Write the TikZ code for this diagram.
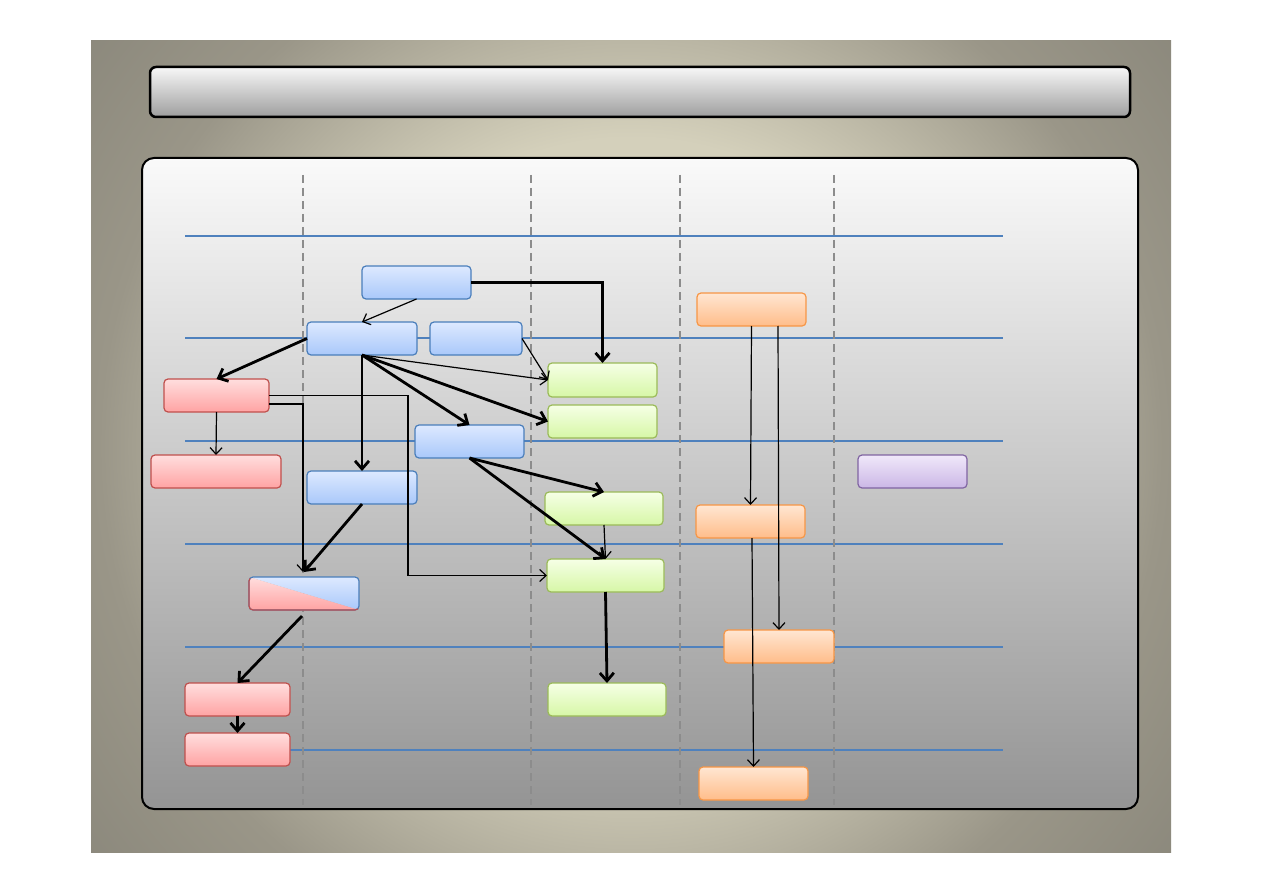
\documentclass[tikz,border=0pt]{standalone}
\usetikzlibrary{arrows.meta,calc}
\definecolor{bgc0}{HTML}{DEDAC6}
\definecolor{bgc1}{HTML}{D4D0BB}
\definecolor{bgc2}{HTML}{9A9688}
\definecolor{bgc3}{HTML}{8A877B}
\pgfdeclareradialshading{bgshade}{\pgfpoint{0bp}{0bp}}{color(0bp)=(bgc0); color(11bp)=(bgc1); color(19bp)=(bgc2); color(25bp)=(bgc3); color(50bp)=(bgc3)}
\definecolor{bluetop}{HTML}{DDE9FF}
\definecolor{bluebot}{HTML}{A9C8FA}
\definecolor{bluebd}{HTML}{4A7EBB}
\definecolor{redtop}{HTML}{FFDEDE}
\definecolor{redbot}{HTML}{FFA3A3}
\definecolor{redbd}{HTML}{C0504D}
\definecolor{greentop}{HTML}{F6FFE6}
\definecolor{greenbot}{HTML}{D6F7A6}
\definecolor{greenbd}{HTML}{9BBB59}
\definecolor{orangetop}{HTML}{FFE6D2}
\definecolor{orangebot}{HTML}{FFBD8A}
\definecolor{orangebd}{HTML}{F79646}
\definecolor{purpletop}{HTML}{F0E8FA}
\definecolor{purplebot}{HTML}{CBB7E6}
\definecolor{purplebd}{HTML}{8064A2}
\definecolor{laneblue}{HTML}{4F81BD}
\tikzset{
  box/.style={rounded corners=4pt, minimum height=33pt, inner sep=0pt, outer sep=0pt, line width=1.2pt},
  bluebox/.style={box, draw=bluebd, top color=bluetop, bottom color=bluebot},
  redbox/.style={box, draw=redbd, top color=redtop, bottom color=redbot},
  greenbox/.style={box, draw=greenbd, top color=greentop, bottom color=greenbot},
  orangebox/.style={box, draw=orangebd, top color=orangetop, bottom color=orangebot},
  purplebox/.style={box, draw=purplebd, top color=purpletop, bottom color=purplebot},
  smallarrow/.style={line width=1.2pt, -{Straight Barb[length=6.5pt,width=12pt]}},
  bigarrow/.style={line width=2.8pt, -{Straight Barb[length=8pt,width=14pt]}},
  laneline/.style={laneblue, line width=1.1pt},
  colline/.style={black!45, line width=1.3pt, dash pattern=on 8pt off 5pt},
}
\begin{document}
\begin{tikzpicture}[x=1pt,y=-1pt]
\useasboundingbox (0,0) rectangle (1263,893);
\fill[white] (0,0) rectangle (1263,893);
% background panel
\begin{scope}
\clip (91,41) rectangle (1171,852);
\shade[shading=bgshade] (631,446) circle (700);
\end{scope}
% title bar
\draw[line width=2.5pt, rounded corners=6pt, top color=white!97!black, bottom color=black!38] (150,67) rectangle (1130,117);
% main panel
\draw[line width=2pt, rounded corners=12pt, top color=white!98!black, bottom color=black!42] (142,158) rectangle (1138,809);
% lanes
\foreach \yy in {236,338,441,544,647,750} \draw[laneline] (185,\yy) -- (1003,\yy);
\foreach \xx in {303,531,680,834} \draw[colline] (\xx,175) -- (\xx,805);
% nodes
\node[bluebox, minimum width=109pt] (B1) at (416.5,282.5) {};
\node[bluebox, minimum width=110pt] (B2) at (362,338.5) {};
\node[bluebox, minimum width=92pt] (B3) at (476,338.5) {};
\node[bluebox, minimum width=109pt] (B4) at (469.5,441.5) {};
\node[bluebox, minimum width=110pt] (B5) at (362,487.5) {};
\node[redbox, minimum width=105pt] (R1) at (216.5,395.5) {};
\node[redbox, minimum width=130pt] (R2) at (216,471.5) {};
\node[redbox, minimum width=105pt] (R3) at (237.5,699.5) {};
\node[redbox, minimum width=105pt] (R4) at (237.5,749.5) {};
\node[greenbox, minimum width=109pt, minimum height=34pt] (G1) at (602.5,380) {};
\node[greenbox, minimum width=109pt] (G2) at (602.5,421.5) {};
\node[greenbox, minimum width=118pt] (G3) at (604,508.5) {};
\node[greenbox, minimum width=117pt] (G4) at (605.5,575.5) {};
\node[greenbox, minimum width=118pt] (G5) at (607,699.5) {};
\node[orangebox, minimum width=109pt] (O1) at (751.5,309.5) {};
\node[orangebox, minimum width=109pt] (O2) at (750.5,521.5) {};
\node[orangebox, minimum width=110pt] (O3) at (779,646.5) {};
\node[orangebox, minimum width=109pt] (O4) at (753.5,783.5) {};
\node[purplebox, minimum width=109pt] (P1) at (912.5,471.5) {};
% mixed node
\node[box, minimum width=110pt] (M) at (304,593.5) {};
\begin{scope}
\clip[rounded corners=4pt] (M.north west) rectangle (M.south east);
\shade[top color=bluetop, bottom color=bluebot] (M.north west) -- (M.north east) -- (M.south east) -- cycle;
\shade[top color=redtop, bottom color=redbot] (M.north west) -- (M.south west) -- (M.south east) -- cycle;
\end{scope}
\draw[bluebd, line width=1.2pt, rounded corners=4pt] (M.north west) rectangle (M.south east);
\begin{scope}
\clip ($(M.north west)+(-4,0)$) -- ($(M.south west)+(-4,4)$) -- ($(M.south east)+(4,4)$) -- ($(M.south east)+(4,0)$) -- cycle;
\draw[redbd, line width=1.2pt, rounded corners=4pt] (M.north west) rectangle (M.south east);
\end{scope}
% connectors
\draw[bigarrow] (B1.east) -| (G1.north);
\draw[smallarrow] (B1.south) -- (B2.north);
\draw[bigarrow] (B2.west) -- (R1.north);
\draw[bigarrow] (B2.south) -- (B5.north);
\draw[bigarrow] (B2.south) -- (B4.north);
\draw[bigarrow] (B2.south) -- (G2.west);
\draw[smallarrow] (B2.south) -- (G1.west);
\draw[smallarrow] (B3.east) -- (G1.west);
\draw[bigarrow] (B4.south) -- (G3.north);
\draw[bigarrow] (B4.south) -- (G4.north);
\draw[smallarrow] (G3.south) -- (G4.north);
\draw[bigarrow] (G4.south) -- (G5.north);
\draw[bigarrow] (B5.south) -- ($(M.north)+(0,-5)$);
\draw[smallarrow] ($(R1.east)+(0,8.5)$) -| ($(M.north)+(-1,-5)$);
\draw[smallarrow] (R1.east) -- ++(139,0) |- (G4.west);
\draw[smallarrow] (R1.south) -- (R2.north);
\draw[bigarrow] ($(M.south)+(-2,6)$) -- (R3.north);
\draw[bigarrow] (R3.south) -- (R4.north);
\draw[smallarrow] (O1.south) -- (O2.north);
\draw[smallarrow] ($(O1.south)+(26.5,0)$) -- (O3.north);
\draw[smallarrow] ($(O2.south)+(1.5,0)$) -- (O4.north);
\end{tikzpicture}
\end{document}
